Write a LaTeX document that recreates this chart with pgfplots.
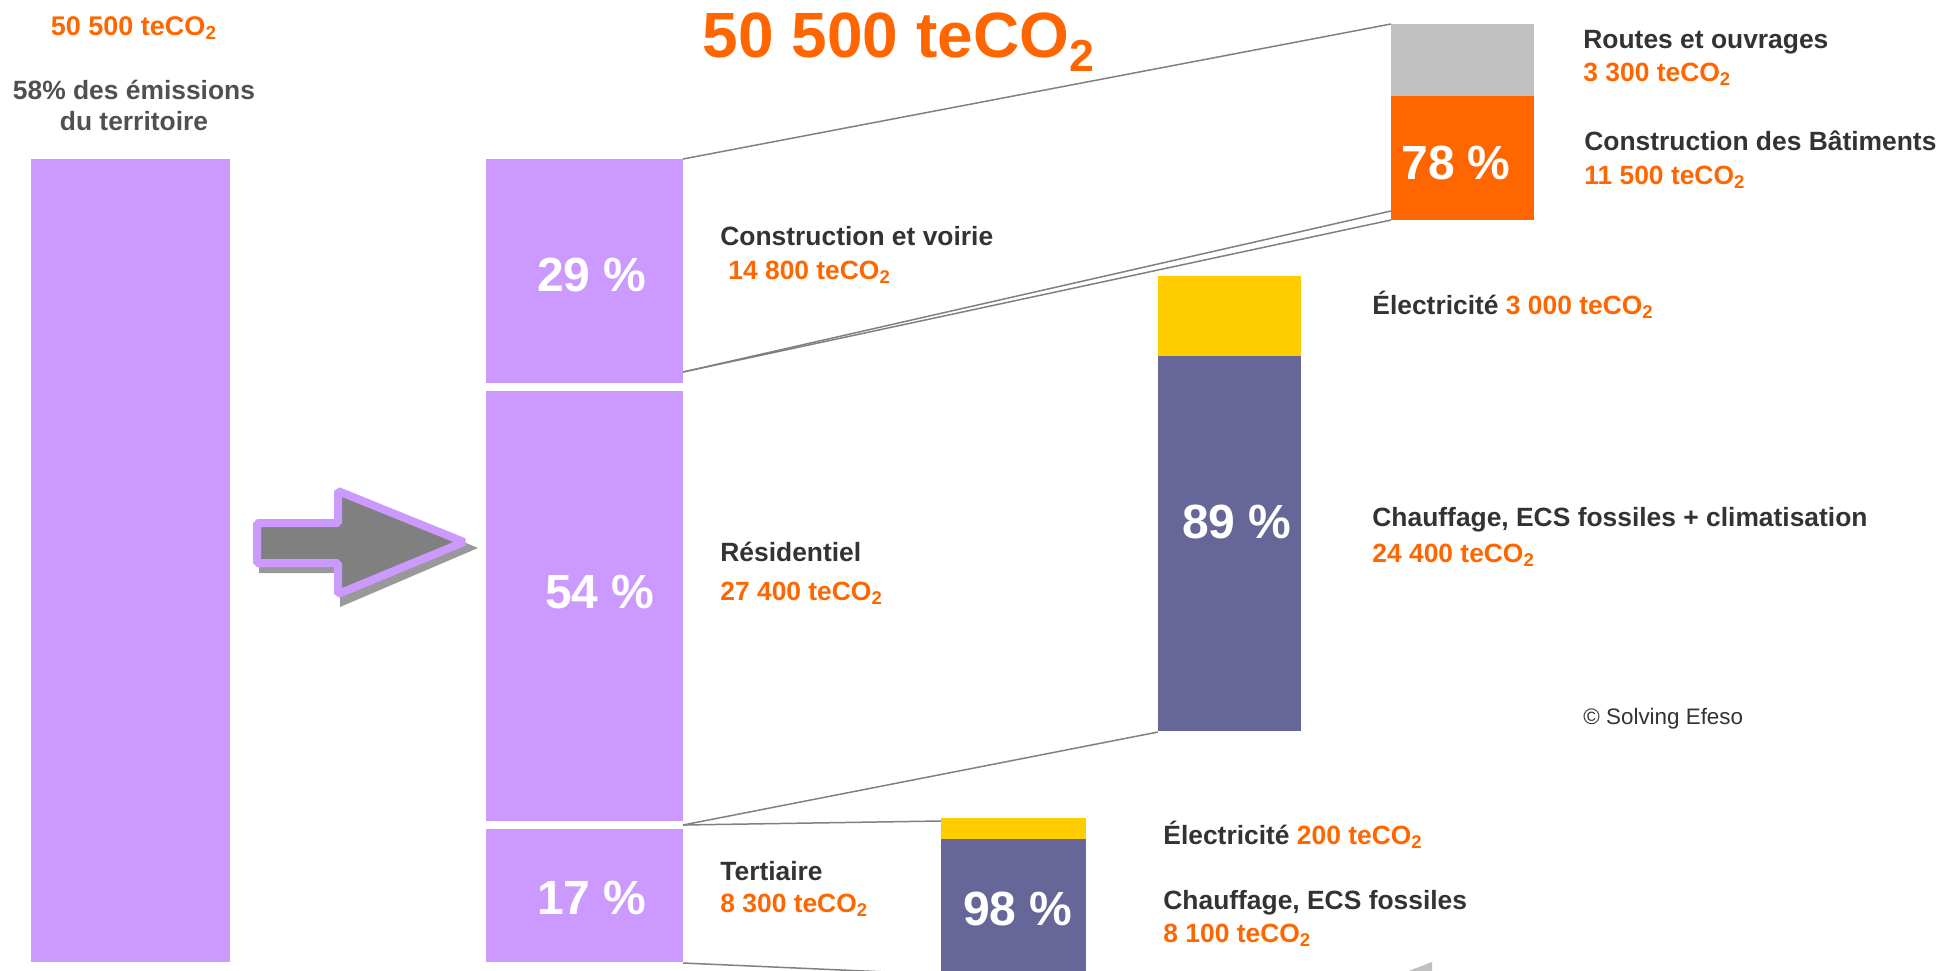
\documentclass[border=0pt]{standalone}
\usepackage{pgfplots}
\pgfplotsset{compat=1.18}
\usepackage{fontspec}
\setmainfont{Liberation Sans}
\definecolor{lav}{HTML}{CC99FF}
\definecolor{org}{HTML}{FF6600}
\definecolor{lgray}{HTML}{C0C0C0}
\definecolor{yel}{HTML}{FFCC00}
\definecolor{blu}{HTML}{666699}
\definecolor{dtxt}{HTML}{333333}
\definecolor{gtxt}{HTML}{505050}
\definecolor{ln}{HTML}{808080}
\newcommand{\tco}{teCO\textsubscript{2}}
\newcommand{\rect}[5]{\addplot[fill=#1,draw=none,forget plot] coordinates {(#2,#4) (#3,#4) (#3,#5) (#2,#5)} -- cycle;}
\newcommand{\lab}{\fontsize{13.2pt}{15pt}\selectfont\bfseries}
\newcommand{\pct}{\fontsize{24pt}{28pt}\selectfont\bfseries}
\begin{document}
\begin{tikzpicture}
\useasboundingbox (0,0) rectangle (979.5pt,485pt);
\begin{axis}[
  at={(0,0)}, anchor=south west,
  x=0.5pt, y=0.5pt, y dir=reverse,
  xmin=0, xmax=1959, ymin=0, ymax=970,
  scale only axis, hide axis, clip=true,
]
% connector lines
\addplot[ln, line width=0.75pt, forget plot] coordinates {(683,159) (1391,24)};
\addplot[ln, line width=0.75pt, forget plot] coordinates {(683,372) (1391,211)};
\addplot[ln, line width=0.75pt, forget plot] coordinates {(683,372) (1391,220)};
\addplot[ln, line width=0.75pt, forget plot] coordinates {(683,825) (1158,732)};
\addplot[ln, line width=0.75pt, forget plot] coordinates {(683,825) (941,821)};
\addplot[ln, line width=0.75pt, forget plot] coordinates {(683,963) (1000,977)};
% total bar (50 500 teCO2)
\rect{lav}{31}{230}{159}{962}
% sectors: 14 800 / 27 400 / 8 300
\rect{lav}{486}{683}{159}{383}
\rect{lav}{486}{683}{391}{821}
\rect{lav}{486}{683}{829}{962}
% Construction et voirie: 3 300 / 11 500
\rect{lgray}{1391}{1534}{24}{96}
\rect{org}{1391}{1534}{96}{220}
% Residentiel: 3 000 / 24 400
\rect{yel}{1158}{1301}{276}{356}
\rect{blu}{1158}{1301}{356}{731}
% Tertiaire: 200 / 8 100
\rect{yel}{941}{1086}{818}{839}
\rect{blu}{941}{1086}{839}{980}
% partial shape at bottom edge
\addplot[fill=lgray, draw=none, forget plot] coordinates {(1398,975) (1432,962) (1432,975)} -- cycle;
% arrow
\fill[black!40] (axis cs:259,529) -- (axis cs:340,529) -- (axis cs:340,490) -- (axis cs:478,548) -- (axis cs:340,607) -- (axis cs:340,573) -- (axis cs:259,573) -- cycle;
\draw[lav, fill=ln, line width=4pt, line join=bevel] (axis cs:257,523) -- (axis cs:338,523) -- (axis cs:338,491) -- (axis cs:464,542) -- (axis cs:338,594) -- (axis cs:338,563) -- (axis cs:257,563) -- cycle;
% texts
\node[anchor=base, text=org, font=\fontsize{13.5pt}{16pt}\selectfont\bfseries] at (axis cs:134,35) {50 500 \tco};
\node[anchor=base, text=gtxt, font=\lab] at (axis cs:134,99) {58\% des émissions};
\node[anchor=base, text=gtxt, font=\lab] at (axis cs:134,130) {du territoire};
\node[anchor=base, text=org, font=\fontsize{32pt}{36pt}\selectfont\bfseries] at (axis cs:899,57) {50 500 \tco};
% percentages
\node[anchor=base, text=white, font=\pct] at (axis cs:592,291) {29 \%};
\node[anchor=base, text=white, font=\pct] at (axis cs:600,608) {54 \%};
\node[anchor=base, text=white, font=\pct] at (axis cs:592,914) {17 \%};
\node[anchor=base, text=white, font=\pct] at (axis cs:1456,179) {78 \%};
\node[anchor=base, text=white, font=\pct] at (axis cs:1237,538) {89 \%};
\node[anchor=base, text=white, font=\pct] at (axis cs:1018,925) {98 \%};
% sector labels
\node[anchor=base west, inner sep=0pt, text=dtxt, font=\lab] at (axis cs:720,245) {Construction et voirie};
\node[anchor=base west, inner sep=0pt, text=org, font=\lab] at (axis cs:728,279) {14 800 \tco};
\node[anchor=base west, inner sep=0pt, text=dtxt, font=\lab] at (axis cs:720,561) {Résidentiel};
\node[anchor=base west, inner sep=0pt, text=org, font=\lab] at (axis cs:720,600) {27 400 \tco};
\node[anchor=base west, inner sep=0pt, text=dtxt, font=\lab] at (axis cs:720,880) {Tertiaire};
\node[anchor=base west, inner sep=0pt, text=org, font=\lab] at (axis cs:720,912) {8 300 \tco};
% detail labels
\node[anchor=base west, inner sep=0pt, text=dtxt, font=\lab] at (axis cs:1583,48) {Routes et ouvrages};
\node[anchor=base west, inner sep=0pt, text=org, font=\lab] at (axis cs:1583,81) {3 300 \tco};
\node[anchor=base west, inner sep=0pt, text=dtxt, font=\lab] at (axis cs:1584,150) {Construction des Bâtiments};
\node[anchor=base west, inner sep=0pt, text=org, font=\lab] at (axis cs:1584,184) {11 500 \tco};
\node[anchor=base west, inner sep=0pt, text=dtxt, font=\lab] at (axis cs:1372,314) {Électricité \textcolor{org}{3 000 \tco}};
\node[anchor=base west, inner sep=0pt, text=dtxt, font=\lab] at (axis cs:1372,526) {Chauffage, ECS fossiles + climatisation};
\node[anchor=base west, inner sep=0pt, text=org, font=\lab] at (axis cs:1372,562) {24 400 \tco};
\node[anchor=base west, inner sep=0pt, text=dtxt, font=\fontsize{11.2pt}{13pt}\selectfont] at (axis cs:1583,724) {© Solving Efeso};
\node[anchor=base west, inner sep=0pt, text=dtxt, font=\lab] at (axis cs:1163,844) {Électricité \textcolor{org}{200 \tco}};
\node[anchor=base west, inner sep=0pt, text=dtxt, font=\lab] at (axis cs:1163,909) {Chauffage, ECS fossiles};
\node[anchor=base west, inner sep=0pt, text=org, font=\lab] at (axis cs:1163,942) {8 100 \tco};
\end{axis}
\end{tikzpicture}
\end{document}
